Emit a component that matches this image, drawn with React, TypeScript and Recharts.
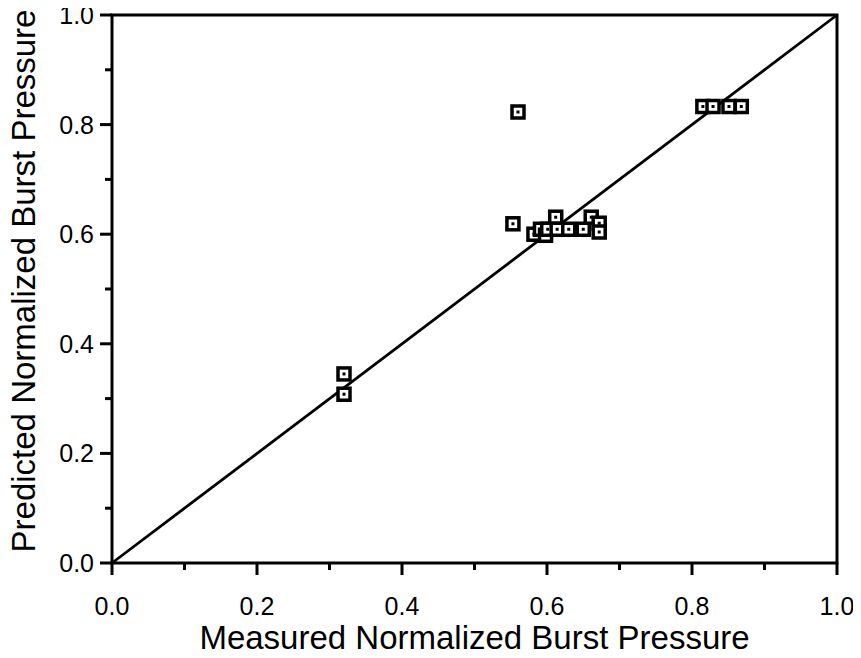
import { ScatterChart, Scatter, XAxis, YAxis, ReferenceLine, ReferenceArea } from 'recharts';

// measured vs predicted normalized burst pressure
const measured = [0.32, 0.32, 0.553, 0.56, 0.582, 0.591, 0.598, 0.601, 0.612, 0.614, 0.63, 0.65, 0.661, 0.672, 0.672, 0.815, 0.829, 0.851, 0.868];
const predicted = [0.345, 0.308, 0.619, 0.823, 0.6, 0.609, 0.598, 0.609, 0.631, 0.609, 0.609, 0.609, 0.631, 0.62, 0.604, 0.833, 0.833, 0.833, 0.833];
const tickValues = [0, 0.1, 0.2, 0.3, 0.4, 0.5, 0.6, 0.7, 0.8, 0.9, 1.0];
const xTitle = 'Measured Normalized Burst Pressure';
const yTitle = 'Predicted Normalized Burst Pressure';

const points = measured.map((x, i) => ({ x, y: predicted[i] }));
const FONT = '"Liberation Sans", Arial, Helvetica, sans-serif';

function isMajor(v: number) {
  return Math.round(v * 10) % 2 === 0;
}

function XTick({ x, y, payload }: any) {
  const major = isMajor(payload.value);
  return (
    <g>
      <line x1={x} x2={x} y1={y} y2={y + (major ? 12 : 7)} stroke="#000" strokeWidth={3} />
      {major && (
        <text x={x} y={y + 52} textAnchor="middle" fontSize={25} fontFamily={FONT} fill="#000">
          {payload.value.toFixed(1)}
        </text>
      )}
    </g>
  );
}

function YTick({ x, y, payload }: any) {
  const major = isMajor(payload.value);
  return (
    <g>
      <line x1={x} x2={x - (major ? 12 : 7)} y1={y} y2={y} stroke="#000" strokeWidth={3} />
      {major && (
        <text x={x - 18} y={y + 9} textAnchor="end" fontSize={25} fontFamily={FONT} fill="#000">
          {payload.value.toFixed(1)}
        </text>
      )}
    </g>
  );
}

function XTitle({ viewBox }: any) {
  return (
    <text x={viewBox.x + viewBox.width / 2} y={viewBox.y + 86} textAnchor="middle" fontSize={33} fontFamily={FONT} fill="#000">
      {xTitle}
    </text>
  );
}

function YTitle({ viewBox }: any) {
  const cx = viewBox.x + 27;
  const cy = viewBox.y + viewBox.height / 2 - 8;
  return (
    <text x={cx} y={cy} transform={`rotate(-90 ${cx} ${cy})`} textAnchor="middle" fontSize={33} fontFamily={FONT} fill="#000">
      {yTitle}
    </text>
  );
}

function SquareMark({ cx, cy }: any) {
  return (
    <g>
      <rect x={cx - 6} y={cy - 6} width={12} height={12} fill="#fff" stroke="#000" strokeWidth={3.5} />
      <rect x={cx - 1.5} y={cy - 1.5} width={3} height={3} fill="#000" />
    </g>
  );
}

export default function App() {
  return (
    <div style={{ width: 845, height: 650, background: '#fff' }}>
      <style>{`svg.recharts-surface { overflow: visible; }`}</style>
      <ScatterChart width={845} height={650} margin={{ top: 7, right: 16, left: 0, bottom: 0 }}>
        <XAxis
          type="number"
          dataKey="x"
          domain={[0, 1]}
          ticks={tickValues}
          interval={0}
          tickSize={0}
          tickMargin={0}
          tickLine={false}
          axisLine={false}
          tick={<XTick />}
          height={95}
          label={<XTitle />}
        />
        <YAxis
          type="number"
          dataKey="y"
          domain={[0, 1]}
          ticks={tickValues}
          interval={0}
          tickSize={0}
          tickMargin={0}
          tickLine={false}
          axisLine={false}
          tick={<YTick />}
          width={104}
          label={<YTitle />}
        />
        <ReferenceArea x1={0} x2={1} y1={0} y2={1} fill="none" stroke="#000" strokeWidth={3} ifOverflow="visible" />
        <ReferenceLine segment={[{ x: 0, y: 0 }, { x: 1, y: 1 }]} stroke="#000" strokeWidth={2.8} ifOverflow="visible" />
        <Scatter data={points} shape={<SquareMark />} isAnimationActive={false} />
      </ScatterChart>
    </div>
  );
}
